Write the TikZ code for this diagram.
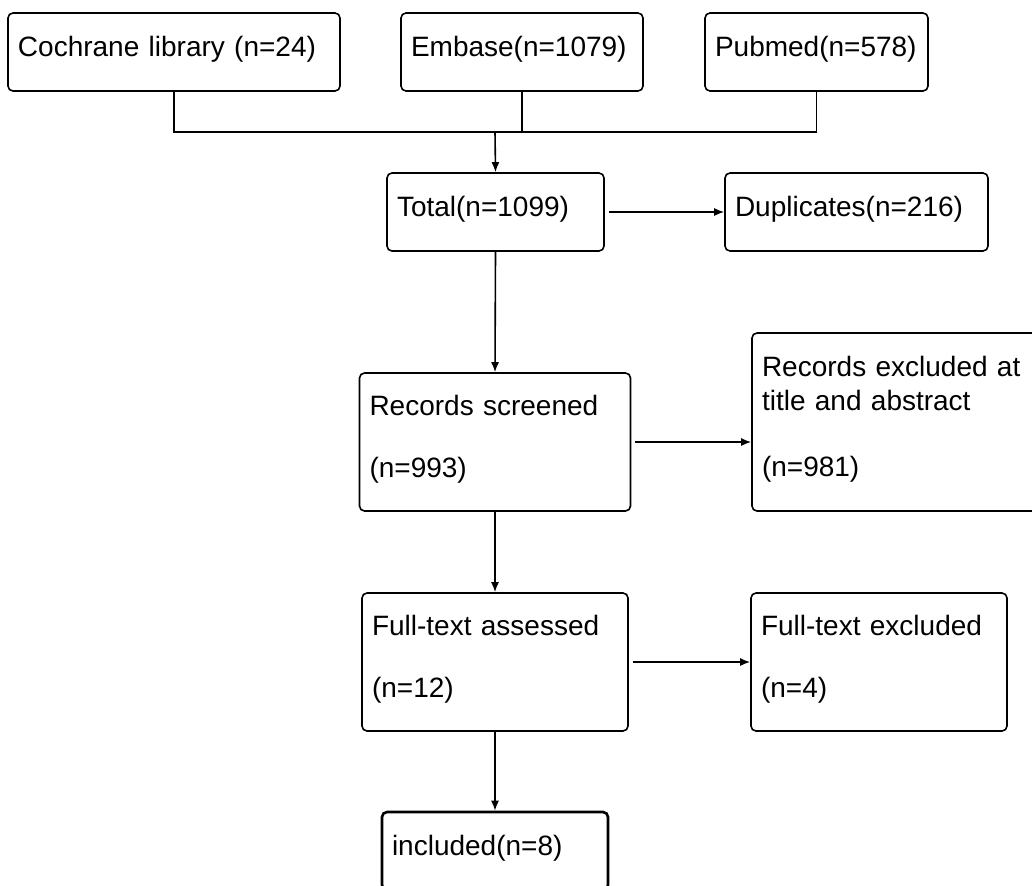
\documentclass[tikz,border=0pt]{standalone}
\usepackage{fontspec}
\setmainfont{Liberation Sans}
\usetikzlibrary{arrows.meta, positioning, calc}

\begin{document}
\begin{tikzpicture}[
    x=0.5pt, y=-0.5pt,
    box/.style={rectangle, rounded corners=2.5pt, draw=black, line width=0.8pt, inner xsep=5pt, inner ysep=0pt, align=left, font=\fontsize{14pt}{17pt}\selectfont, text depth=#1, minimum height=39pt},
    box/.default=6pt,
    tallbox/.style={box=37pt, minimum height=69pt},
    arrow/.style={-{Latex[length=5pt,width=4pt]}, line width=0.8pt},
    link/.style={line width=0.8pt}
]
    \useasboundingbox (0,0) rectangle (1032,885);

    % sources
    \node[box, text width=156pt] (cochrane) at (174,52) {Cochrane library (n=24)};
    \node[box, text width=111pt] (embase) at (522,52) {Embase(n=1079)};
    \node[box, text width=101.5pt] (pubmed) at (816.5,52) {Pubmed(n=578)};

    % screening steps
    \node[box, text width=98.5pt] (total) at (495.5,212) {Total(n=1099)};
    \node[box, text width=121.5pt] (dup) at (856.5,212) {Duplicates(n=216)};
    \node[tallbox, text width=125.5pt] (screened) at (495,442) {Records screened\\[14pt](n=993)};
    \node[box=56pt, text width=136.5pt, minimum height=89pt] (excltitle) at (898.5,422) {Records excluded at\\title and abstract\\[16pt](n=981)};
    \node[tallbox, text width=123pt] (fulltext) at (495,662) {Full-text assessed\\[14pt](n=12)};
    \node[tallbox, text width=118pt] (exclfull) at (879,662) {Full-text excluded\\[14pt](n=4)};
    \node[box, text width=103pt, line width=1.3pt] (included) at (495,851) {included(n=8)};

    % connectors
    \coordinate (merge) at (495,132);
    \draw[link] (cochrane.south) |- (merge) -| (pubmed.south);
    \draw[link] (embase.south) -- (embase.south |- merge);
    \draw[arrow] (merge) -- (total.north);
    \draw[arrow, shorten <=2pt] (total) -- (dup);
    \draw[arrow] (total.south) -- (screened.north);
    \draw[arrow, shorten <=2pt] (screened.east) -- (screened.east -| excltitle.west);
    \draw[arrow] (screened) -- (fulltext);
    \draw[arrow, shorten <=2pt] (fulltext) -- (exclfull);
    \draw[arrow] (fulltext) -- (included);
\end{tikzpicture}
\end{document}
